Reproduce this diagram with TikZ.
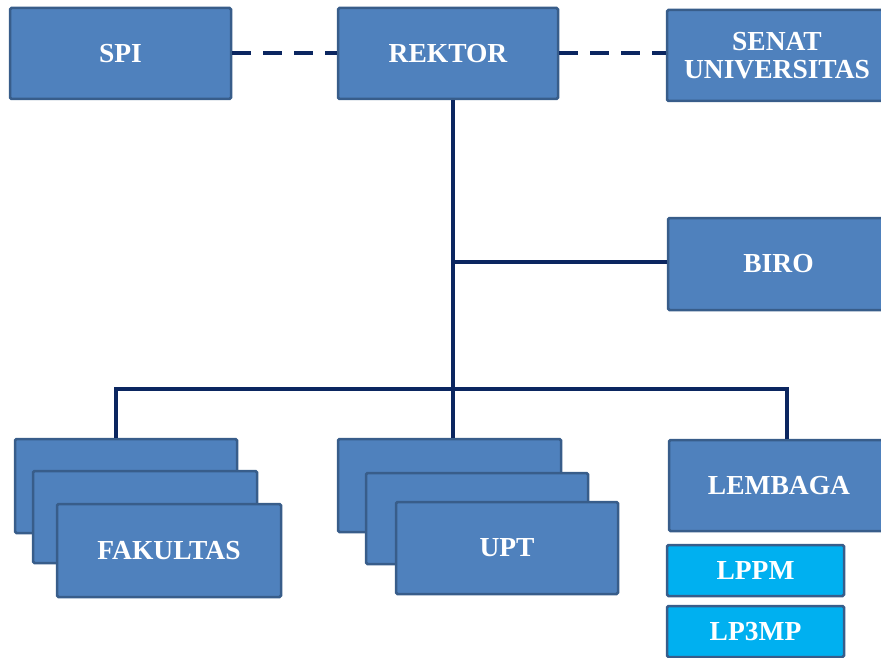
\documentclass[tikz,border=0pt]{standalone}
\usepackage{fontspec}
\setmainfont{Liberation Serif}
\definecolor{boxblue}{HTML}{4F81BD}
\definecolor{boxedge}{HTML}{385D8A}
\definecolor{lightbox}{HTML}{00B0F0}
\definecolor{navy}{HTML}{0B2660}
\tikzset{
  orgbox/.style={draw=boxedge, fill=boxblue, line width=2.5pt, rounded corners=1.5pt,
    inner sep=0pt, text=white, align=center,
    font=\fontsize{27.5}{28.5}\selectfont\bfseries},
  subbox/.style={orgbox, fill=lightbox},
  link/.style={draw=navy, line width=4.5pt},
  dashlink/.style={draw=navy, line width=4pt, dash pattern=on 19pt off 12pt}
}
\begin{document}
\begin{tikzpicture}[x=1pt,y=-1pt]
\useasboundingbox (0,0) rectangle (881,658);
\clip (0,0) rectangle (881,658);
% top row
\node[orgbox, minimum width=221pt, minimum height=91pt] (spi) at (120.5,53.5) {SPI};
\node[orgbox, minimum width=220pt, minimum height=91pt] (rektor) at (448,53.5) {REKTOR};
\node[orgbox, minimum width=220pt, minimum height=91pt] (senat) at (777,55.5) {SENAT\\UNIVERSITAS};
% biro
\node[orgbox, minimum width=221pt, minimum height=92pt] (biro) at (778.5,264) {BIRO};
% fakultas stack
\node[orgbox, minimum width=222pt, minimum height=94pt] (fak1) at (126,486) {};
\node[orgbox, minimum width=224pt, minimum height=92pt] (fak2) at (145,517) {};
\node[orgbox, minimum width=224pt, minimum height=93pt] (fak3) at (169,550.5) {FAKULTAS};
% upt stack
\node[orgbox, minimum width=223pt, minimum height=93pt] (upt1) at (449.5,485.5) {};
\node[orgbox, minimum width=222pt, minimum height=91pt] (upt2) at (477,518.5) {};
\node[orgbox, minimum width=222pt, minimum height=92pt] (upt3) at (507,548) {UPT};
% lembaga
\node[orgbox, minimum width=220pt, minimum height=91pt] (lembaga) at (779,485.5) {LEMBAGA};
\node[subbox, minimum width=177pt, minimum height=51pt] (lppm) at (755.5,570.5) {LPPM};
\node[subbox, minimum width=177pt, minimum height=51pt] (lp3mp) at (755.5,631.5) {LP3MP};
% connector coordinates
\coordinate (trunk) at (453,389);
\coordinate (fx) at (116,389);
\coordinate (lx) at (787,389);
% connectors
\draw[dashlink] (spi.east) -- (rektor.west);
\draw[dashlink] (rektor.east) -- (rektor.east -| senat.west);
\draw[link] (trunk |- rektor.south) -- (trunk |- upt1.north);
\draw[link] (biro.west |- 0,262) -- (trunk |- 0,262);
\draw[link] (fx |- fak1.north) -- (fx) -- (lx) -- (lx |- lembaga.north);
\end{tikzpicture}
\end{document}
